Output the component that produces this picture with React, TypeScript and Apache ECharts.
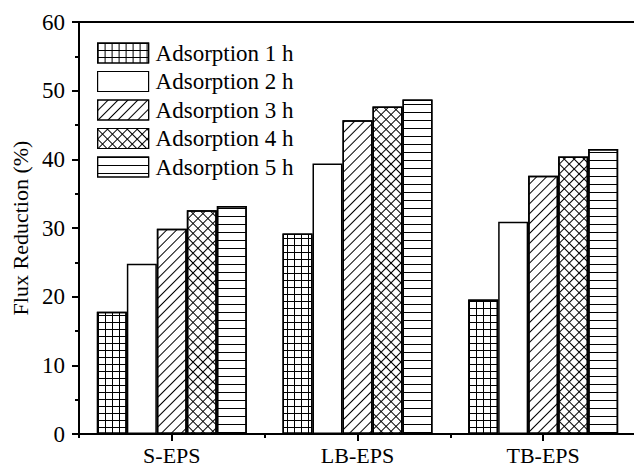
import React, { useEffect, useRef } from "react";
import * as echarts from "echarts";

// Extraction categories and flux-reduction values (%) per adsorption time
const categories = ["S-EPS", "LB-EPS", "TB-EPS"];
const seriesNames = [
  "Adsorption 1 h",
  "Adsorption 2 h",
  "Adsorption 3 h",
  "Adsorption 4 h",
  "Adsorption 5 h",
];
const adsorption1h = [17.8, 29.2, 19.6];
const adsorption2h = [24.8, 39.4, 30.9];
const adsorption3h = [29.9, 45.7, 37.6];
const adsorption4h = [32.6, 47.7, 40.4];
const adsorption5h = [33.2, 48.7, 41.5];
const yMin = 0;
const yMax = 60;
const yStep = 10;

const FONT = "Liberation Serif";

// Hatch fills, one per adsorption time
const gridHatch = {
  symbol: "rect",
  symbolSize: 1,
  symbolKeepAspect: false,
  color: "#000",
  dashArrayX: [
    [7, 0],
    [1, 6],
  ],
  dashArrayY: [1, 0, 6, 0],
  rotation: 0,
};
const noHatch = "none";
const diagonalHatch = {
  symbol: "rect",
  symbolSize: 1,
  symbolKeepAspect: false,
  color: "#000",
  dashArrayX: [10, 0],
  dashArrayY: [1, 6],
  rotation: -Math.PI / 4,
};
const crossHatch = { ...gridHatch, rotation: Math.PI / 4 };
const horizontalHatch = {
  symbol: "rect",
  symbolSize: 1,
  symbolKeepAspect: false,
  color: "#000",
  dashArrayX: [10, 0],
  dashArrayY: [1, 7],
  rotation: 0,
};

const seriesValues = [adsorption1h, adsorption2h, adsorption3h, adsorption4h, adsorption5h];
const hatches: any[] = [gridHatch, noHatch, diagonalHatch, crossHatch, horizontalHatch];

export default function App() {
  const ref = useRef<HTMLDivElement>(null);

  useEffect(() => {
    if (!ref.current) return;
    const chart = echarts.init(ref.current, null, { renderer: "svg" });
    chart.setOption({
      animation: false,
      backgroundColor: "#fff",
      textStyle: { fontFamily: FONT, color: "#000" },
      grid: {
        left: 79,
        right: 4,
        top: 22,
        bottom: 31,
        show: true,
        borderColor: "#000",
        borderWidth: 2,
      },
      legend: {
        orient: "vertical",
        left: 92,
        top: 35,
        itemWidth: 51,
        itemHeight: 20,
        itemGap: 2.5,
        icon: "rect",
        data: seriesNames,
        itemStyle: { borderWidth: 1.2 },
        textStyle: {
          fontFamily: FONT,
          fontSize: 23,
          color: "#000",
          lineHeight: 20,
          padding: [6, 0, 0, 2],
        },
      },
      xAxis: [
        {
          type: "category",
          data: categories,
          boundaryGap: true,
          axisLine: { lineStyle: { color: "#000", width: 2 } },
          axisTick: { show: true, alignWithLabel: true, length: 7, lineStyle: { color: "#000", width: 2 } },
          axisLabel: { fontFamily: FONT, fontSize: 22, color: "#000", margin: 10 },
        },
        {
          type: "category",
          data: categories,
          boundaryGap: true,
          position: "bottom",
          axisLine: { show: false },
          axisTick: { show: true, alignWithLabel: false, interval: 0, length: 4, lineStyle: { color: "#000", width: 2 } },
          axisLabel: { show: false },
          splitLine: { show: false },
        },
      ],
      yAxis: {
        type: "value",
        min: yMin,
        max: yMax,
        interval: yStep,
        name: "Flux Reduction (%)",
        nameLocation: "middle",
        nameGap: 46,
        nameTextStyle: { fontFamily: FONT, fontSize: 22, color: "#000" },
        axisLine: { show: true, lineStyle: { color: "#000", width: 2 } },
        axisTick: { show: true, length: 7, lineStyle: { color: "#000", width: 2 } },
        minorTick: { show: true, splitNumber: 2, length: 4, lineStyle: { color: "#000", width: 2 } },
        axisLabel: { fontFamily: FONT, fontSize: 23, color: "#000", margin: 14 },
        splitLine: { show: false },
      },
      series: seriesNames.map((name, i) => ({
        name,
        type: "bar",
        xAxisIndex: 0,
        data: seriesValues[i],
        barWidth: 30,
        barGap: "0%",
        itemStyle: {
          color: "#fff",
          borderColor: "#000",
          borderWidth: 1.5,
          decal: hatches[i],
        },
      })),
    });
    return () => chart.dispose();
  }, []);

  return (
    <div
      style={{
        position: "absolute",
        left: 0,
        top: 0,
        width: 634,
        height: 466,
        overflow: "hidden",
        background: "#fff",
      }}
    >
      <div ref={ref} style={{ width: 640, height: 466 }} />
    </div>
  );
}
